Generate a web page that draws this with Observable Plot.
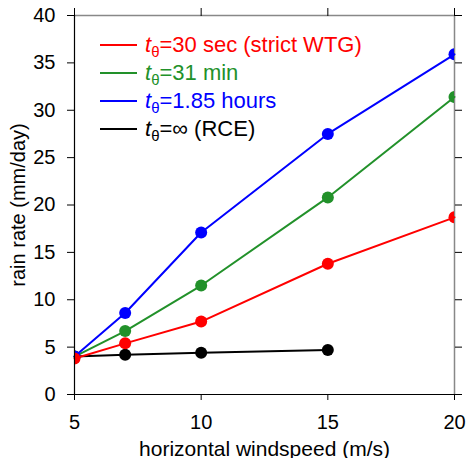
<!DOCTYPE html>
<html><head><meta charset="utf-8">
<script src="https://cdn.jsdelivr.net/npm/d3@7"></script>
<script src="https://cdn.jsdelivr.net/npm/@observablehq/plot@0.6"></script>
<style>
body{margin:0;background:#fff;font-family:"Liberation Sans",Arial,sans-serif}
#wrap{position:relative;width:467px;height:458px}
#legend{position:absolute;left:100px;top:31px;font-size:22px;line-height:28px}
.row{display:flex;align-items:center;height:28px}
.sw{width:37px;height:2px;margin-right:8px}
.row i{font-style:italic}
.row sub{font-size:15px;vertical-align:-5px;line-height:0}
svg text{font-size:20px}
svg g[aria-label="x-axis label"] text{font-size:21px}
</style></head>
<body><div id="wrap"></div>
<script>
const windspeed = [5, 7, 10, 15, 20];
const strictWTG = [3.8, 5.4, 7.7, 13.8, 18.7];
const min31 = [4.0, 6.7, 11.5, 20.8, 31.4];
const hours185 = [4.0, 8.6, 17.1, 27.5, 35.9];
const rceWind = [5, 7, 10, 15];
const rce = [4.0, 4.2, 4.4, 4.7];
const seriesNames = ["=30 sec (strict WTG)", "=31 min", "=1.85 hours", "=\u221E (RCE)"];
const seriesColors = ["#ff0000", "#22912a", "#0000ff", "#000000"];
const xTicks = [5, 10, 15, 20];
const yTicks = [0, 5, 10, 15, 20, 25, 30, 35, 40];

const rows = [];
const add = (name, xs, ys) => xs.forEach((x, i) => rows.push({series: name, x, y: ys[i]}));
add(seriesNames[3], rceWind, rce);
add(seriesNames[1], windspeed, min31);
add(seriesNames[2], windspeed, hours185);
add(seriesNames[0], windspeed, strictWTG);
const order = [seriesNames[3], seriesNames[1], seriesNames[2], seriesNames[0]];

const marks = [];
for (const s of order) {
  const d = rows.filter(r => r.series === s);
  marks.push(Plot.line(d, {x: "x", y: "y", stroke: "series", strokeWidth: 2}));
  marks.push(Plot.dot(d, {x: "x", y: "y", fill: "series", r: 6, clip: true}));
}

const chart = Plot.plot({
  width: 467, height: 458,
  marginLeft: 74, marginRight: 13, marginTop: 15, marginBottom: 64,
  style: {fontFamily: '"Liberation Sans", Arial, sans-serif', fontSize: "20px", color: "#000", background: "#fff"},
  x: {domain: [5, 20]},
  y: {domain: [0, 40]},
  color: {domain: seriesNames, range: seriesColors},
  marks: [
    Plot.ruleY([40], {stroke: "#888", strokeWidth: 1.5}),
    Plot.ruleX([20], {stroke: "#888", strokeWidth: 1.5}),
    ...marks,
    Plot.ruleX([5], {stroke: "#000", strokeWidth: 1.2}),
    Plot.ruleY([0], {stroke: "#000", strokeWidth: 1.2}),
    Plot.axisY(yTicks, {anchor: "left", tickSize: 7, tickPadding: 12, fontSize: 20,
      label: "rain rate (mm/day)", labelAnchor: "center", labelArrow: "none", labelOffset: 64}),
    Plot.axisY(yTicks, {anchor: "right", tickSize: 7, tickFormat: () => "", label: null}),
    Plot.axisX(xTicks, {anchor: "bottom", tickSize: 6, tickPadding: 14, fontSize: 20,
      label: "horizontal windspeed (m/s)", labelAnchor: "center", labelArrow: "none", labelOffset: 61}),
    Plot.axisX(xTicks, {anchor: "top", tickSize: 8, tickFormat: () => "", label: null})
  ]
});
const wrap = document.getElementById("wrap");
wrap.appendChild(chart);
const legend = document.createElement("div");
legend.id = "legend";
seriesNames.forEach((n, i) => {
  const row = document.createElement("div");
  row.className = "row";
  row.style.color = seriesColors[i];
  row.innerHTML = `<span class="sw" style="background:${seriesColors[i]}"></span><span><i>t</i><sub>\u03B8</sub>${n}</span>`;
  legend.appendChild(row);
});
wrap.appendChild(legend);
</script>
</body></html>
